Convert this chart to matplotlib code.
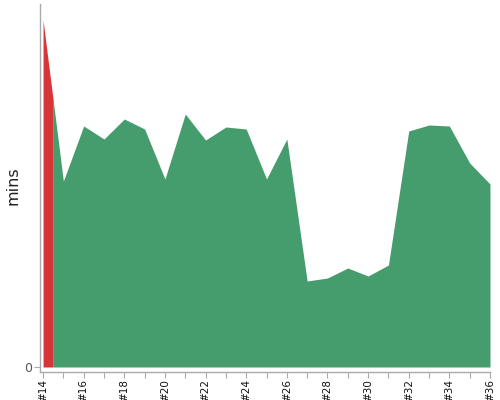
import numpy as np
import matplotlib
matplotlib.use("Agg")
import matplotlib.pyplot as plt

builds = list(range(14, 37))
mins = [34.7, 18.6, 24.1, 22.8, 24.8, 23.8, 18.8, 25.3, 22.7, 24.0, 23.8, 18.8,
        22.8, 8.6, 8.9, 9.9, 9.1, 10.2, 23.6, 24.2, 24.1, 20.4, 18.3]
red_until = 14.5
tick_labels = ["#%d" % b for b in builds]

green = "#459d6e"
red = "#d63638"

fig = plt.figure(figsize=(5, 4), dpi=100)
ax = fig.add_axes([0.08, 0.07, 0.90, 0.92])

x = np.array(builds, dtype=float)
y = np.array(mins)
ysplit = np.interp(red_until, x, y)

xr = np.concatenate([x[x < red_until], [red_until]])
yr = np.concatenate([y[x < red_until], [ysplit]])
xg = np.concatenate([[red_until], x[x > red_until]])
yg = np.concatenate([[ysplit], y[x > red_until]])

ax.fill_between(xr, 0, yr, color=red, linewidth=0)
ax.fill_between(xg, 0, yg, color=green, linewidth=0)

ax.set_xlim(13.85, 36.0)
ax.set_ylim(-0.5, 36.3)

ax.set_xticks(builds)
ax.set_xticklabels([l if i % 2 == 0 else "" for i, l in enumerate(tick_labels)],
                   rotation=90, fontsize=7.5, color="#111111")
ax.set_yticks([0])
ax.set_yticklabels(["0"], fontsize=9, color="#555555")
ax.tick_params(axis="x", length=4, color="#aaaaaa", pad=1)
ax.tick_params(axis="y", length=4, color="#aaaaaa", pad=2)

for s in ["top", "right"]:
    ax.spines[s].set_visible(False)
for s in ["left", "bottom"]:
    ax.spines[s].set_color("#aaaaaa")
    ax.spines[s].set_linewidth(1)

fig.text(0.026, 0.537, "mins", rotation=90, fontsize=11.5, color="#222222",
         ha="center", va="center")

fig.savefig("out.png", dpi=100)
